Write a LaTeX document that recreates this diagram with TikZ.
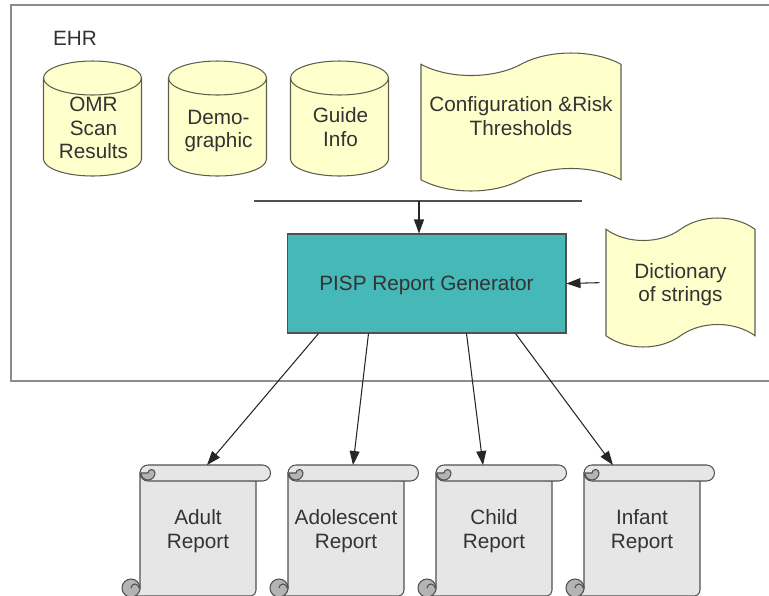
\documentclass[tikz,border=0pt]{standalone}
\usepackage{fontspec}
\setmainfont{Liberation Sans}
\usetikzlibrary{arrows.meta, shapes.symbols, calc}

\definecolor{framegray}{HTML}{8C8C8C}
\definecolor{linegray}{HTML}{505050}
\definecolor{textgray}{HTML}{333333}
\definecolor{storefill}{HTML}{FFFFCC}
\definecolor{storeline}{HTML}{5E5E50}
\definecolor{genfill}{HTML}{46B8B8}
\definecolor{paperfill}{HTML}{E6E6E6}
\definecolor{curlfill}{HTML}{B4B4B4}

\tikzset{
  lbl/.style={font=\fontsize{11.8}{13.4}\selectfont, text=textgray, align=center},
  store/.style={draw=storeline, fill=storefill, line width=0.6pt},
  paper/.style={draw=linegray, fill=paperfill, line width=0.6pt},
  curl/.style={draw=linegray, fill=curlfill, line width=0.6pt},
  arr/.style={draw=black!85, line width=0.6pt, -{Triangle[length=2.8mm, width=2mm]}},
}

% #1 centre x, #2 name, #3 text, #4 text y
\newcommand\storecyl[4]{%
  \filldraw[store] (#1-49, 78) -- (#1-49, 159) arc[start angle=180, end angle=0, x radius=49, y radius=17]
    -- (#1+49, 78) arc[start angle=0, end angle=-180, x radius=49, y radius=17] -- cycle;
  \draw[store, fill=none] (#1-49, 78) arc[start angle=180, end angle=0, x radius=49, y radius=17];
  \node[lbl] (#2) at (#1+1, #4) {#3};
}

% #1 left x, #2 name, #3 text
\newcommand\reportscroll[3]{%
  \begin{scope}[shift={(#1,463)}]
    \filldraw[paper] (18,10) -- (18,126) -- (9.5,133) -- (128,133) arc[start angle=90, end angle=0, radius=6] -- (134,18) -- cycle;
    \filldraw[paper] (26,2) -- (140.5,2) arc[start angle=-90, end angle=90, radius=8] -- (26,18) arc[start angle=90, end angle=270, radius=8] -- cycle;
    \filldraw[curl] (19,10) arc[start angle=180, end angle=0, radius=7] arc[start angle=0, end angle=-180, radius=3.5] -- cycle;
    \filldraw[curl] (9,125) circle[radius=9];
    \draw[paper, fill=none] (9,125) arc[start angle=180, end angle=360, radius=4];
    \node[lbl] (#2) at (76,68) {#3};
    \coordinate (#2-top) at (76,2);
  \end{scope}
}

\begin{document}
\begin{tikzpicture}[x=0.02cm, y=-0.02cm]
  \useasboundingbox (0,0) rectangle (769,596);
  \clip (0,0) rectangle (769,596);
  %\draw[lightgray] (0,0) grid[xstep=50, ystep=50] (769,596);
  \draw[framegray, line width=1.1pt] (790,5) -- (11,5) -- (11,381) -- (790,381);
  \node[lbl] (ehr) at (75,38) {EHR};

  \storecyl{92.5}{omr}{OMR\\Scan\\Results}{128}
  \storecyl{217.5}{demo}{Demo-\\graphic}{131}
  \storecyl{339.5}{guide}{Guide\\Info}{127}

  \node[store, tape, lbl, minimum width=4cm, minimum height=2.76cm, tape bend height=0.45cm, text depth=0.24cm] (config) at (521,122) {Configuration \&Risk\\Thresholds};
  \node[store, tape, lbl, minimum width=2.98cm, minimum height=2.58cm, tape bend height=0.45cm, text depth=0pt] (dict) at (680.5,282.5) {Dictionary\\of strings};

  \coordinate (busL) at (254,201);
  \coordinate (busR) at (582,201);
  \coordinate (busM) at (419,201);
  \draw[linegray, line width=0.6pt] (busL) -- (busR);

  \node[lbl, draw=linegray, fill=genfill, line width=0.6pt, minimum width=5.58cm, minimum height=1.98cm, inner sep=0, text depth=0pt] (gen) at (426.5,283.5) {PISP Report Generator};

  \reportscroll{122}{adult}{Adult\\Report}
  \reportscroll{270}{adolescent}{Adolescent\\Report}
  \reportscroll{418}{child}{Child\\Report}
  \reportscroll{566}{infant}{Infant\\Report}

  \draw[arr] (busM) -- (busM |- gen.north);
  \draw[arr, shorten <=0.12cm] (dict.west) -- (gen.east);
  \draw[arr] ($(gen.south west)+(32,0)$) -- ($(adult-top)+(9,0)$);
  \draw[arr] ($(gen.south west)+(82,0)$) -- ($(adolescent-top)+(7,0)$);
  \draw[arr] ($(gen.south west)+(180,0)$) -- ($(child-top)+(-11,0)$);
  \draw[arr] ($(gen.south west)+(229,0)$) -- ($(infant-top)+(-29,0)$);
\end{tikzpicture}
\end{document}
